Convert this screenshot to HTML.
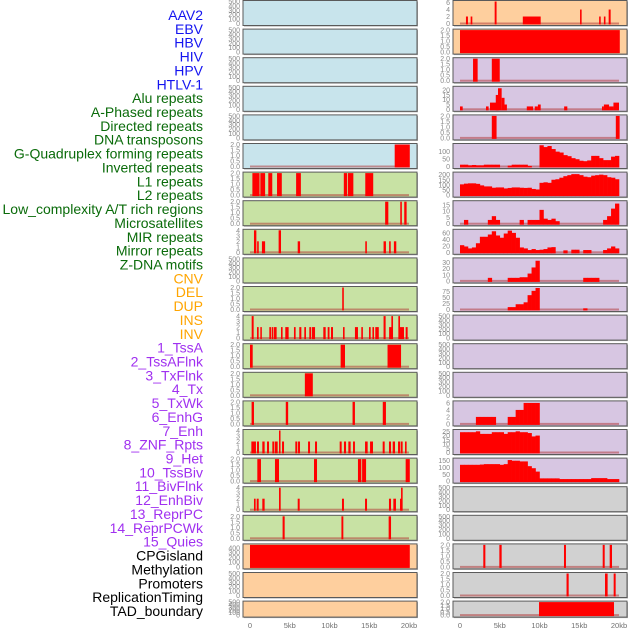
<!DOCTYPE html>
<html><head><meta charset="utf-8">
<style>
html,body{margin:0;padding:0;background:#fff;}
svg{display:block;font-family:"Liberation Sans",sans-serif;}
</style></head>
<body>
<svg id="chart" width="630" height="630" viewBox="0 0 630 630"></svg>
<script>
// ---------- data ----------
const labelNames = ["AAV2","EBV","HBV","HIV","HPV","HTLV-1","Alu repeats","A-Phased repeats","Directed repeats","DNA transposons","G-Quadruplex forming repeats","Inverted repeats","L1 repeats","L2 repeats","Low_complexity A/T rich regions","Microsatellites","MIR repeats","Mirror repeats","Z-DNA motifs","CNV","DEL","DUP","INS","INV","1_TssA","2_TssAFlnk","3_TxFlnk","4_Tx","5_TxWk","6_EnhG","7_Enh","8_ZNF_Rpts","9_Het","10_TssBiv","11_BivFlnk","12_EnhBiv","13_ReprPC","14_ReprPCWk","15_Quies","CPGisland","Methylation","Promoters","ReplicationTiming","TAD_boundary"];
const labelGroups = [0,0,0,0,0,0,1,1,1,1,1,1,1,1,1,1,1,1,1,2,2,2,2,2,3,3,3,3,3,3,3,3,3,3,3,3,3,3,3,4,4,4,4,4];
const groupColors = ["#1414f0","#0a6b0a","#ffa500","#a030f0","#000000"];
const xTicksKb = [0,5,10,15,20];
const xTickLabels = ["0","5kb","10kb","15kb","20kb"];

// per row: background category (0 blue,1 green,2 orange,3 purple,4 gray)
const leftBg  = [0,0,0,0,0,0,1,1,1,1,1,1,1,1,1,1,1,1,1,2,2,2];
const rightBg = [2,2,3,3,3,3,3,3,3,3,3,3,3,3,3,3,3,4,4,4,4,4];
const leftMax  = [500,500,500,500,500,2,2,2,4,500,2,4,2,2,2,4,2,4,2,460,500,500];
const rightMax = [6.3,2,2,23,2,145,215,17.5,68,36,92,500,500,500,6.3,26,162,500,500,2,2,2];
const leftTicks  = [[0,100,200,300,400,500],[0,100,200,300,400,500],[0,100,200,300,400,500],[0,100,200,300,400,500],[0,100,200,300,400,500],[0,0.5,1,1.5,2],[0,0.5,1,1.5,2],[0,0.5,1,1.5,2],[0,1,2,3,4],[0,100,200,300,400,500],[0,0.5,1,1.5,2],[0,1,2,3,4],[0,0.5,1,1.5,2],[0,0.5,1,1.5,2],[0,0.5,1,1.5,2],[0,1,2,3,4],[0,0.5,1,1.5,2],[0,1,2,3,4],[0,0.5,1,1.5,2],[0,100,200,300,400],[0,100,200,300,400,500],[0,100,200,300,400,500]];
const rightTicks = [[0,2,4,6],[0,0.5,1,1.5,2],[0,0.5,1,1.5,2],[0,5,10,15,20],[0,0.5,1,1.5,2],[0,50,100],[0,50,100,150,200],[0,5,10,15],[0,20,40,60],[0,10,20,30],[0,25,50,75],[0,100,200,300,400,500],[0,100,200,300,400,500],[0,100,200,300,400,500],[0,2,4,6],[0,5,10,15,20,25],[0,50,100,150],[0,100,200,300,400,500],[0,100,200,300,400,500],[0,0.5,1,1.5,2],[0,0.5,1,1.5,2],[0,0.5,1,1.5,2]];

// segments [startKb, endKb, value]
const leftSegments = [
 [],[],[],[],[],
 [[18.2,20.1,2]],
 [[0.3,1.2,2],[1.3,1.9,2],[2.3,2.8,2],[3.4,4.0,2],[5.8,6.4,2],[11.8,12.2,2],[12.3,13.0,2],[14.5,15.5,2]],
 [[17.0,17.4,2],[18.9,19.1,2],[19.4,19.7,2]],
 [[0.5,0.8,4],[0.9,1.1,2],[1.5,1.9,2],[3.6,3.9,4],[6.0,6.3,2],[14.5,14.7,2],[16.8,17.1,2],[17.5,17.7,2],[18.1,18.4,2]],
 [],
 [[11.6,11.8,2]],
 [[0.21,0.46,4],[0.88,1.09,2],[1.3,1.47,2],[2.43,2.64,2],[2.73,2.94,2],[3.02,3.35,2],[3.9,4.1,2],[4.44,4.86,2],[5.53,5.74,2],[6.2,6.46,2],[6.83,7.04,2],[7.46,7.7,2],[7.8,8.18,2],[9.22,9.52,2],[9.77,10.0,2],[10.19,10.44,2],[11.7,11.9,2],[13.2,13.58,2],[14.0,14.2,2],[14.97,15.18,2],[15.4,15.6,2],[15.76,16.2,2],[16.8,17.06,4],[17.5,17.8,2],[17.78,17.99,4],[18.66,18.87,4],[18.87,19.37,2],[19.58,19.83,2]],
 [[0,0.34,2],[11.4,11.95,2],[17.3,19.0,2]],
 [[6.9,7.9,2]],
 [[0.2,0.5,2],[4.5,4.8,2],[12.9,13.2,2],[16.7,17.1,2]],
 [[0.17,0.75,2],[0.88,1.13,2],[1.55,1.84,2],[2.14,2.39,2],[2.81,3.06,2],[3.14,3.48,2],[3.65,3.82,4],[4.03,4.28,2],[5.7,5.95,2],[6.04,6.29,2],[7.3,7.55,2],[8.18,8.43,2],[11.28,11.53,2],[11.82,12.08,2],[12.37,12.66,2],[12.96,13.2,2],[14.47,14.8,2],[15.1,15.47,2],[16.69,16.94,2],[17.48,17.74,2],[17.95,18.24,2],[18.62,18.87,2],[18.95,19.2,2],[19.5,19.7,2]],
 [[0.92,1.38,2],[3.14,3.65,2],[8.05,8.43,2],[13.58,14.0,2],[14.1,14.6,2],[19.58,20.1,2]],
 [[0.5,0.71,2],[0.84,1.09,2],[1.55,1.84,2],[3.65,3.86,4],[6.0,6.25,2],[11.57,11.82,2],[14.47,14.72,2],[17.48,17.74,2],[18.03,18.36,2],[18.87,19.04,2],[19.0,19.2,4]],
 [[4.1,4.36,2],[11.5,11.74,2],[17.44,17.74,2]],
 [[0,20.1,460]],
 [],[]
];
const rightSegments = [
 [[0.75,1.0,2],[1.34,1.55,2],[4.36,4.6,6.3],[7.9,10.15,2],[15.1,15.3,4],[17.5,17.7,2],[18.1,18.3,2],[18.7,18.95,4]],
 [[0,20.1,2]],
 [[1.64,2.22,2],[4.0,5.0,2]],
 [[0,0.34,3],[3.27,3.6,3],[3.77,4.78,7],[4.5,4.86,15],[4.78,5.24,22],[5.24,5.6,12],[5.6,5.9,5],[8.4,9.2,3],[9.4,9.8,3],[9.8,10.15,5],[13.1,13.5,3],[17.86,18.1,3],[18.1,18.75,5],[18.75,19.3,3],[19.3,20.0,7]],
 [[4.0,4.6,2],[19.6,20.08,2]],
 [],[],[],[],[],[],[],[],[],[],[],[],[],[],
 [[2.93,3.19,2],[4.95,5.24,2],[13.08,13.33,2],[17.95,18.2,2],[18.83,19.12,2]],
 [[13.4,13.67,2],[18.24,18.57,2],[19.33,19.58,2]],
 [[9.94,19.37,2]]
];
// 40 bins of 0.5kb for area-style right panels (row index -> values)
const binRow5  = [12,12,8,10,8,8,12,12,12,12,0,0,6,12,12,12,12,4,0,0,140,128,135,115,98,92,75,68,55,48,38,35,40,70,70,55,42,42,65,70];
const binRow6  = [105,112,115,115,110,95,85,85,72,75,75,65,70,75,75,72,70,72,60,55,120,125,120,150,155,170,185,195,205,205,195,180,175,190,195,200,195,175,170,155];
const binRow7  = [0,3,0,0,0,0,0,3,6,3,0,0,0,0,0,3,0,3,3,3,11,4,3,4,2,0,0,0,0,0,0,0,0,0,0,0,3,6,12,16];
const binRow8  = [22,18,12,15,28,48,48,55,65,52,45,58,67,60,45,15,12,7,10,7,8,10,15,16,0,0,6,0,8,8,0,7,7,0,0,0,7,12,18,12];
const binRow9  = [0,0,0,0,0,0,0,5,0,0,0,0,5,5,5,6,6,12,22,33,0,0,0,0,0,0,0,0,0,0,0,5,5,5,5,0,0,0,0,0];
const binRow10 = [0,0,0,0,0,0,0,0,0,0,0,0,10,10,22,22,30,60,78,90,0,0,0,0,0,0,0,0,0,0,0,5,0,0,0,0,0,0,0,0];
const binRow14 = [0,0,0,0,2,2,2,2,2,0,0,0,2,2,4,4,6,6,6,6,0,0,0,0,0,0,0,0,0,0,0,0,0,0,0,0,0,0,0,0];
const binRow15 = [24,24,24,24,25,22,22,22,24,24,24,22,24,24,25,24,24,23,19,20,0,0,0,0,0,0,0,0,0,0,0,0,0,0,0,0,0,0,0,0];
const binRow16 = [120,120,120,120,120,122,125,125,125,125,120,125,155,150,150,145,145,110,95,70,20,20,20,20,20,15,15,15,15,15,15,15,15,22,22,22,22,15,15,15];
const rightBinRows = [5,6,7,8,9,10,14,15,16];
const rightBins = [binRow5,binRow6,binRow7,binRow8,binRow9,binRow10,binRow14,binRow15,binRow16];

// ---------- drawing ----------
const NS="http://www.w3.org/2000/svg";
const svg=document.getElementById('chart');
const bgColors=["#c8e4ec","#c8e2a4","#fecf9e","#d7c6e2","#d1d1d1"];
const colX=[243,453];
const panelW=174;
function rowTop(i){return 0.5+i*28.6;}
function rowH(i){return i===21?16:25;}
function xScale(col,kb){return colX[col]+7+kb*7.95;}
function yScale(i,v,max){const t=rowTop(i),h=rowH(i);const y0=t+h-2,y1=t+1;return y0-(v/max)*(y0-y1);}
function mk(tag,attrs){const e=document.createElementNS(NS,tag);for(const k in attrs)e.setAttribute(k,attrs[k]);svg.appendChild(e);return e;}
function fmt(v,ticks){const dec=ticks.some(t=>t%1!==0);return dec?v.toFixed(1):String(v);}

// labels
labelNames.forEach((n,i)=>{
  const t=mk('text',{x:203,y:15+i*13.86+5,'text-anchor':'end','font-size':'14',fill:groupColors[labelGroups[i]]});
  
  
  t.textContent=n;
});

function drawPanel(col,i,bg,max,ticks,segs,bins){
  const t=rowTop(i),h=rowH(i),x=colX[col];
  const r=mk('rect',{x:x+1,y:t+1,width:panelW,height:h,fill:'#aaa'});
  
  
  const p=mk('rect',{x:x,y:t,width:panelW,height:h,fill:bgColors[bg],stroke:'#5a5a5a','stroke-width':1});
  
  
  // ticks
  ticks.forEach(v=>{
    const y=yScale(i,v,max);
    const tx=mk('text',{x:x-3,y:y+2.5,'text-anchor':'end','font-size':'7',fill:'#8a8a8a'});
    
    
    tx.textContent=fmt(v,ticks);
  });
  // baseline
  if(segs.length||bins){
    const bl=mk('rect',{x:xScale(col,0),y:t+h-3,width:xScale(col,20)-xScale(col,0),height:2,fill:'#b03030',opacity:0.5});
    
    
  }
  const yb=yScale(i,0,max);
  segs.forEach(s=>{
    const x0=xScale(col,s[0]),x1=xScale(col,s[1]);const y=Math.max(t+1,yScale(i,s[2],max));
    const b=mk('rect',{x:x0,y:y,width:Math.max(1.5,x1-x0),height:yb-y+1,fill:'#ff0000'});
    
    
  });
  if(bins){
    bins.forEach((v,k)=>{
      if(!v)return;
      const x0=xScale(col,k*0.5),x1=xScale(col,(k+1)*0.5);const y=Math.max(t+1,yScale(i,v,max));
      const b=mk('rect',{x:x0,y:y,width:x1-x0+0.3,height:yb-y+1,fill:'#ff0000'});
      
      
    });
  }
}
for(let i=0;i<22;i++){
  drawPanel(0,i,leftBg[i],leftMax[i],leftTicks[i],leftSegments[i],null);
  const bi=rightBinRows.indexOf(i);
  drawPanel(1,i,rightBg[i],rightMax[i],rightTicks[i],rightSegments[i],bi>=0?rightBins[bi]:null);
}
// x axes
[0,1].forEach(col=>{
  xTicksKb.forEach((kb,k)=>{
    const t=mk('text',{x:xScale(col,kb),y:628,'text-anchor':'middle','font-size':'7.5',fill:'#707070'});
    
    
    t.textContent=xTickLabels[k];
  });
});
</script>
</body></html>
